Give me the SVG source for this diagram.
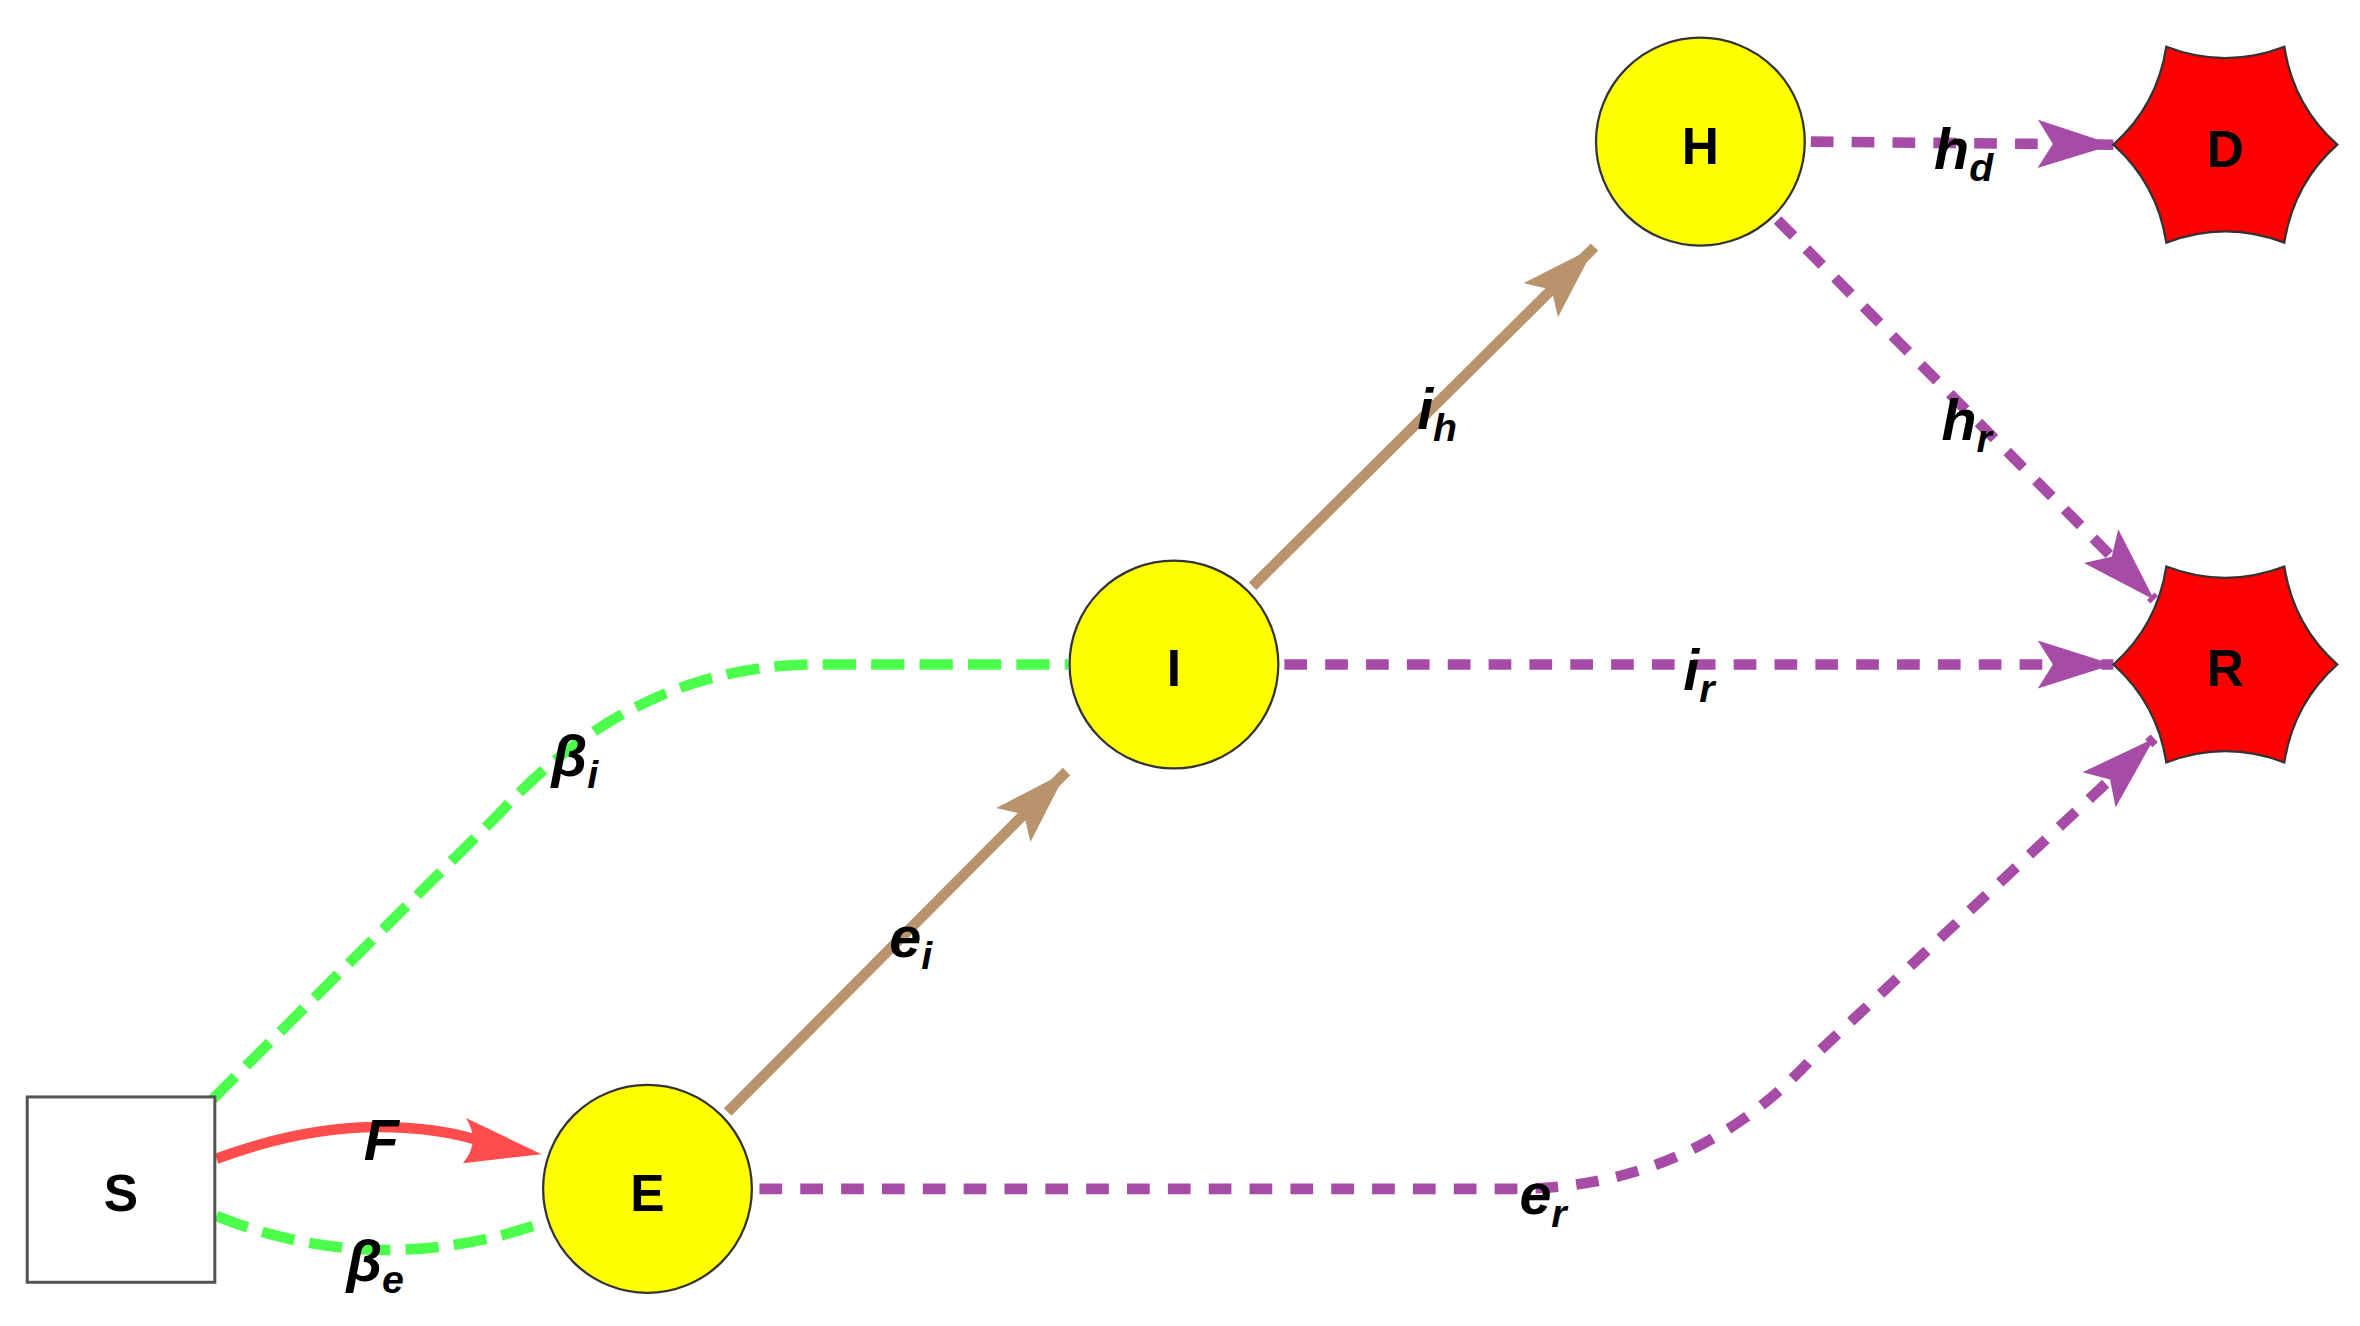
<svg xmlns="http://www.w3.org/2000/svg" width="2360" height="1326" viewBox="0 0 2360 1326">
<style>
.nd{fill:#ffff00;stroke:#333;stroke-width:1.5}
.st{fill:#ff0000;stroke:#333;stroke-width:1.5}
.nt{font-family:"Liberation Sans",Arial,sans-serif;font-weight:bold;font-size:34px;text-anchor:middle;dominant-baseline:central}
.lb{font-family:"Liberation Sans",Arial,sans-serif;font-weight:bold;font-style:italic;font-size:38px;text-anchor:middle}
.sb{font-size:26px}
.g{fill:none;stroke:#4dff4d;stroke-width:7;stroke-dasharray:22 10}
.p{fill:none;stroke:#a64ca6;stroke-width:7;stroke-dasharray:15 12}
.t{fill:none;stroke:#b8936b;stroke-width:7}
.r{fill:none;stroke:#ff4d4d;stroke-width:7}
</style>
<defs>
<marker id="ap" markerUnits="userSpaceOnUse" viewBox="-52 -18 54 36" markerWidth="54" markerHeight="36" refX="0" refY="0" orient="auto"><path d="M0,0 L-50,-16 L-40,0 L-50,16 Z" fill="#a64ca6"/></marker>
<marker id="at" markerUnits="userSpaceOnUse" viewBox="-52 -18 54 36" markerWidth="54" markerHeight="36" refX="0" refY="0" orient="auto"><path d="M0,0 L-50,-16 L-40,0 L-50,16 Z" fill="#b8936b"/></marker>
<marker id="ar" markerUnits="userSpaceOnUse" viewBox="-52 -18 54 36" markerWidth="54" markerHeight="36" refX="0" refY="0" orient="auto"><path d="M0,0 L-50,-16 L-40,0 L-50,16 Z" fill="#ff4d4d"/></marker>
<path id="star" d="M74,0 Q45,26 39,65 Q0,50 -39,65 Q-45,26 -74,0 Q-45,-26 -39,-65 Q0,-50 39,-65 Q45,-26 74,0 Z"/>
</defs>
<rect width="2360" height="1326" fill="#fff"/>
<g transform="scale(1.5128,1.5068)">
<g id="edges">
<path class="r" d="M143,769 Q200,748 250,748 Q290,748 320,758" />
<path d="M358,766 L308,742 Q318,758 306,772 Z" fill="#ff4d4d"/>
<path class="g" d="M143,807 Q250,850 360,811"/>
<path class="g" d="M140,730 L330,540 Q420,441 540,441 L706,441"/>
<path class="t" d="M481,738 L705,512" marker-end="url(#at)"/>
<path class="t" d="M828,389 L1054,164" marker-end="url(#at)"/>
<path class="p" d="M1197,94 L1397,96" marker-end="url(#ap)"/>
<path class="p" d="M1175,146 L1424,398" marker-end="url(#ap)"/>
<path class="p" d="M849,441 L1397,441" marker-end="url(#ap)"/>
<path class="p" d="M502,789 L1000,789 Q1120,789 1200,700 L1424,490" marker-end="url(#ap)"/>
<rect x="1094" y="255" width="1" height="1" fill="none"/>
<text class="lb" x="252" y="770">F</text>
<text class="lb" x="248" y="850">β<tspan class="sb" dy="8">e</tspan></text>
<text class="lb" x="380" y="515">β<tspan class="sb" dy="8">i</tspan></text>
<text class="lb" x="602" y="635">e<tspan class="sb" dy="8">i</tspan></text>
<text class="lb" x="950" y="285">i<tspan class="sb" dy="8">h</tspan></text>
<text class="lb" x="1298" y="112">h<tspan class="sb" dy="8">d</tspan></text>
<text class="lb" x="1300" y="292">h<tspan class="sb" dy="8">r</tspan></text>
<text class="lb" x="1123" y="458">i<tspan class="sb" dy="8">r</tspan></text>
<text class="lb" x="1020" y="806">e<tspan class="sb" dy="8">r</tspan></text>
</g>
<g id="S"><rect x="18" y="728" width="124" height="123" fill="#fff" stroke="#555" stroke-width="2"/><text class="nt" x="80" y="792">S</text></g>
<g id="E"><circle class="nd" cx="428" cy="789" r="69"/><text class="nt" x="428" y="792">E</text></g>
<g id="I"><circle class="nd" cx="776" cy="441" r="69"/><text class="nt" x="776" y="444">I</text></g>
<g id="H"><circle class="nd" cx="1124" cy="94" r="69"/><text class="nt" x="1124" y="97">H</text></g>
<g id="D"><use href="#star" class="st" x="1471" y="96"/><text class="nt" x="1471" y="99">D</text></g>
<g id="R"><use href="#star" class="st" x="1471" y="441"/><text class="nt" x="1471" y="444">R</text></g>
</g>
</svg>
